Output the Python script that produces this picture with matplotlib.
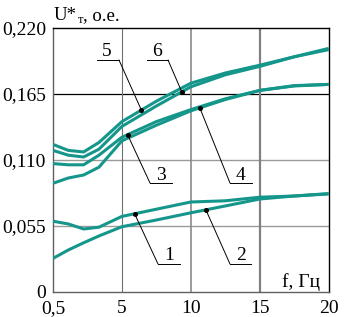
import numpy as np
import matplotlib
matplotlib.use("Agg")
import matplotlib.pyplot as plt

plt.rcParams['font.family'] = ['Liberation Serif', 'DejaVu Serif']

# ---- data ----
f = [0.5, 1.5, 2.5, 3.5, 5, 7.5, 10, 12.5, 15, 17.5, 20]
curve1 = [0.059, 0.0567, 0.0525, 0.054, 0.063, 0.069, 0.075, 0.076, 0.079, 0.080, 0.082]
curve2 = [0.028, 0.035, 0.041, 0.0467, 0.0544, 0.060, 0.066, 0.0717, 0.0775, 0.080, 0.0817]
curve3 = [0.107, 0.106, 0.106, 0.114, 0.129, 0.142, 0.152, 0.161, 0.168, 0.172, 0.173]
curve4 = [0.0906, 0.095, 0.0975, 0.104, 0.126, 0.139, 0.151, 0.1604, 0.168, 0.1717, 0.173]
curve5 = [0.123, 0.118, 0.1167, 0.1246, 0.142, 0.159, 0.174, 0.1825, 0.189, 0.196, 0.203]
curve6 = [0.118, 0.114, 0.1125, 0.119, 0.138, 0.155, 0.171, 0.181, 0.188, 0.196, 0.202]
curves = {'1': curve1, '2': curve2, '3': curve3, '4': curve4, '5': curve5, '6': curve6}

x_ticks = [0.5, 5, 10, 15, 20]
x_ticklabels = ['0,5', '5', '10', '15', '20']
y_ticks = [0, 0.055, 0.110, 0.165, 0.220]
y_ticklabels = ['0', '0,055', '0,110', '0,165', '0,220']

# label: (f of point on curve, text pos px, underline x-range px, leader start side)
labels = {
    '5': (6.41, (107, 51), (97, 119), 'right'),
    '6': (9.34, (157, 51), (147, 168), 'right'),
    '3': (5.41, (161, 175), (150, 172), 'left'),
    '4': (10.65, (241, 175), (230, 252), 'left'),
    '1': (5.92, (169, 255), (158, 180), 'left'),
    '2': (11.09, (241, 255), (230, 251), 'left'),
}
underline_y = {'5': 60, '6': 60, '3': 183, '4': 183, '1': 264, '2': 264}

# ---- figure ----
W, H = 344, 317
fig = plt.figure(figsize=(W / 100, H / 100), dpi=100)
L, R, T, B = 53, 328.7, 28, 292
ax = fig.add_axes([L / W, (H - B) / H, (R - L) / W, (B - T) / H])

brk_f = [0.5, 5, 10, 15, 20]
brk_p = [0, 1, 2, 3, 4]
fwd = lambda v: np.interp(v, brk_f, brk_p)
inv = lambda v: np.interp(v, brk_p, brk_f)
ax.set_xscale('function', functions=(fwd, inv))
ax.set_xlim(0.5, 20)
ax.set_ylim(0, 0.220)

def px2ax(x, y):
    return ((x - L) / (R - L), (B - y) / (B - T))

# grid
ax.axhline(0.165, color='black', lw=0.9, zorder=1)
ax.axhline(0.110, color='#9a9a9a', lw=1.0, zorder=1)
ax.axhline(0.055, color='#9a9a9a', lw=1.0, zorder=1)
ax.axvline(5, color='#707070', lw=0.8, zorder=1)
ax.axvline(10, color='#8a8a8a', lw=1.2, zorder=1)
ax.axvline(15, color='#808080', lw=1.6, zorder=1)

col = '#15968b'
for k, c in curves.items():
    ax.plot(f, c, color=col, lw=2.2, solid_capstyle='butt', solid_joinstyle='round', zorder=3)

for k, (fp, tpos, ul, side) in labels.items():
    vp = np.interp(fp, f, curves[k])
    uy = underline_y[k]
    x0, y0 = px2ax(ul[0], uy)
    x1, _ = px2ax(ul[1], uy)
    ax.plot([x0, x1], [y0, y0], color='black', lw=0.7, transform=ax.transAxes, zorder=4)
    sx = x1 if side == 'right' else x0
    ax.annotate('', xy=(fp, vp), xycoords='data', xytext=(sx, y0), textcoords='axes fraction',
                arrowprops=dict(arrowstyle='-', lw=0.7, color='black', shrinkA=0, shrinkB=0), zorder=4)
    ax.plot([fp], [vp], 'o', color='black', ms=2.6, zorder=5)
    tx, ty = px2ax(*tpos)
    ax.text(tx, ty, k, transform=ax.transAxes, ha='center', va='center', fontsize=14, zorder=5)

ax.set_xticks(x_ticks)
ax.set_xticklabels(x_ticklabels)
ax.set_yticks(y_ticks)
ax.set_yticklabels(y_ticklabels)
ax.tick_params(length=0, labelsize=14, pad=5)
ax.tick_params(axis='x', pad=6)

for s in ['top', 'right']:
    ax.spines[s].set_color('black')
    ax.spines[s].set_linewidth(1.0)
for s in ['left', 'bottom']:
    ax.spines[s].set_color('#606060')
    ax.spines[s].set_linewidth(1.0)

# axis titles
tx, ty = px2ax(282, 282)
ax.text(tx, ty, 'f, Гц', transform=ax.transAxes, ha='left', va='center', fontsize=14)

base_px = H - 20  # baseline in display pixels (from bottom)
t1 = fig.text(54 / W, base_px / H, 'U*', fontsize=13.5, ha='left', va='baseline')
fig.canvas.draw()
r = fig.canvas.get_renderer()
x_end = t1.get_window_extent(r).x1
t2 = fig.text((x_end + 0.5) / W, (base_px - 3) / H, 'т', fontsize=9, ha='left', va='baseline')
fig.canvas.draw()
x_end2 = t2.get_window_extent(r).x1
fig.text(x_end2 / W, base_px / H, ', о.е.', fontsize=13.5, ha='left', va='baseline')

fig.savefig('out.png', dpi=100)
